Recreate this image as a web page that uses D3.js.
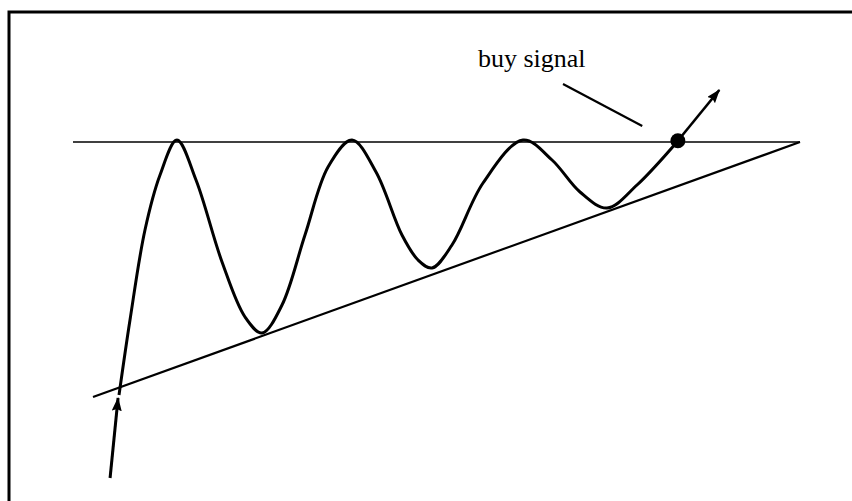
<!DOCTYPE html>
<html>
<head>
<meta charset="utf-8">
<script src="https://cdn.jsdelivr.net/npm/d3@7"></script>
<style>
  html, body { margin: 0; padding: 0; background: #fff; }
  svg { display: block; }
</style>
</head>
<body>
<svg id="chart" width="852" height="501"></svg>
<script>
// ascending triangle: price swings between a flat top and a rising floor
const priceT = [6.33, 7.84, 9.90, 11.97, 14.30, 16.92, 20.50, 23.66, 26.00, 28.75, 31.91, 35.08, 38.38,
                41.68, 45.25, 47.46, 49.38, 52.13, 56.40, 61.90, 65.89, 69.74, 73.45, 77.58, 83.20];
const priceP = [21.75, 40.5, 63.0, 76.75, 85.5, 75.5, 55.0, 41.25, 37.25, 44.25, 61.75, 78.75, 85.5,
                77.5, 61.75, 55.5, 53.5, 59.25, 74.75, 85.5, 80.5, 72.5, 68.5, 74.25, 85.25];

const resistanceT = [0, 100];
const resistanceP = [85, 85];
const supportT = [2.75, 100];
const supportP = [21.25, 85];

const arrowInT = [5.1, 6.2];
const arrowInP = [1, 21];
const arrowOutT = [83.2, 88.9];
const arrowOutP = [85.3, 98];

const signalT = 83.2, signalP = 85.3;
const labelText = "buy signal";
const labelT = 55.7, labelP = 103.8;
const leaderT = [67.4, 78.3];
const leaderP = [99.5, 89];

const svg = d3.select("#chart");
const x = d3.scaleLinear().domain([0, 100]).range([73, 800]);
const y = d3.scaleLinear().domain([0, 100]).range([482, 82]);

const zip = (a, b) => a.map((v, i) => [v, b[i]]);
const line = d3.line().x(d => x(d[0])).y(d => y(d[1]));
const smooth = d3.line().x(d => x(d[0])).y(d => y(d[1])).curve(d3.curveCatmullRom.alpha(0.5));

// frame (top and left edge only)
svg.append("path")
    .attr("d", "M9,501 V12 H852")
    .attr("fill", "none")
    .attr("stroke", "#000")
    .attr("stroke-width", 3);

const defs = svg.append("defs");
defs.append("marker")
    .attr("id", "head")
    .attr("viewBox", "0 0 14 10")
    .attr("refX", 13)
    .attr("refY", 5)
    .attr("markerWidth", 14)
    .attr("markerHeight", 10)
    .attr("markerUnits", "userSpaceOnUse")
    .attr("orient", "auto")
    .append("path")
    .attr("d", "M0,0 L14,5 L0,10 L2,5 Z")
    .attr("fill", "#000");

svg.append("path")
    .attr("d", line(zip(resistanceT, resistanceP)))
    .attr("stroke", "#000").attr("stroke-width", 1.6).attr("fill", "none");

svg.append("path")
    .attr("d", line(zip(supportT, supportP)))
    .attr("stroke", "#000").attr("stroke-width", 2.2).attr("fill", "none");

svg.append("path")
    .attr("d", smooth(zip(priceT, priceP)))
    .attr("stroke", "#000").attr("stroke-width", 3).attr("fill", "none");

svg.append("path")
    .attr("d", line(zip(arrowInT, arrowInP)))
    .attr("stroke", "#000").attr("stroke-width", 3).attr("fill", "none")
    .attr("marker-end", "url(#head)");

svg.append("path")
    .attr("d", line(zip(arrowOutT, arrowOutP)))
    .attr("stroke", "#000").attr("stroke-width", 2.6).attr("fill", "none")
    .attr("marker-end", "url(#head)");

svg.append("circle")
    .attr("cx", x(signalT)).attr("cy", y(signalP))
    .attr("r", 7.5).attr("fill", "#000");

svg.append("path")
    .attr("d", line(zip(leaderT, leaderP)))
    .attr("stroke", "#000").attr("stroke-width", 2.2).attr("fill", "none");

svg.append("text")
    .attr("x", x(labelT)).attr("y", y(labelP))
    .attr("font-family", "'Liberation Serif', 'Times New Roman', serif")
    .attr("font-size", 26)
    .attr("fill", "#000")
    .text(labelText);
</script>
</body>
</html>
